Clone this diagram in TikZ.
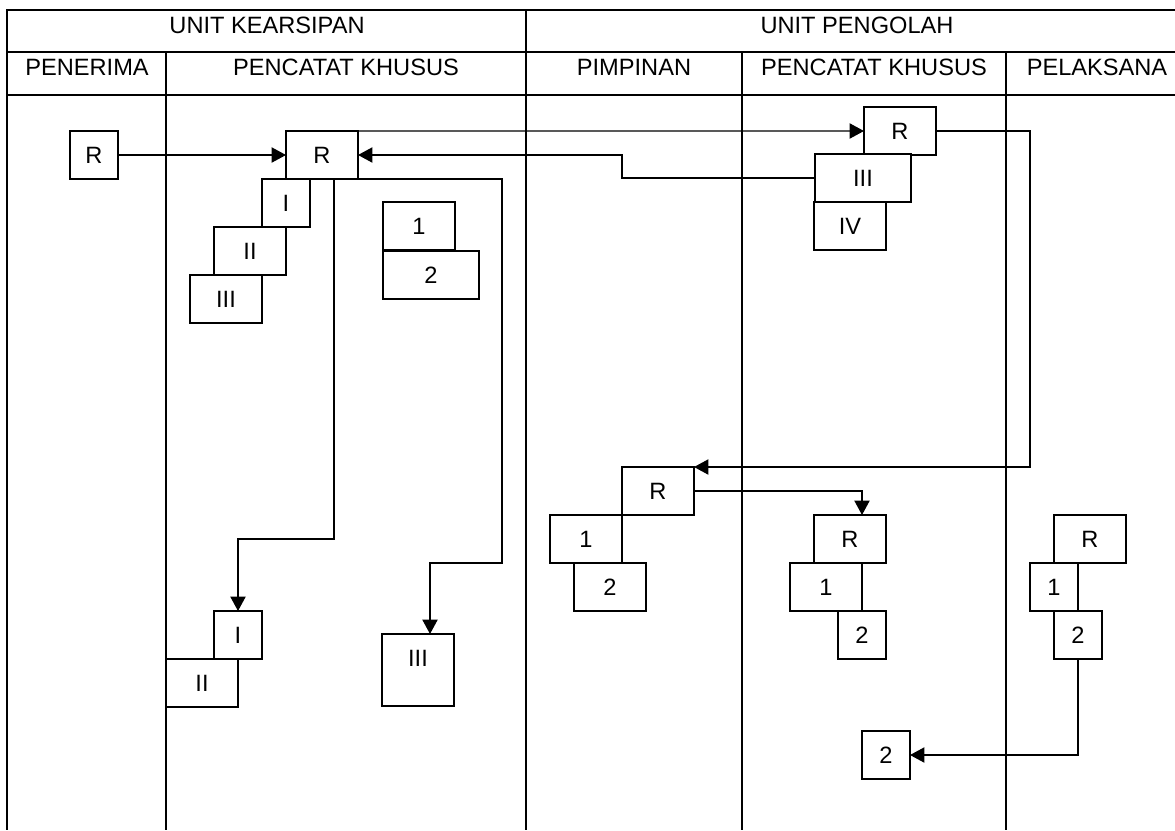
\documentclass[tikz,border=0pt]{standalone}
\usepackage{fontspec}
\setmainfont{Liberation Sans}
\usetikzlibrary{arrows.meta}
\tikzset{
  box/.style={draw,fill=white,line width=1pt,inner sep=0pt,outer sep=0pt,minimum width=18mm,minimum height=12mm},
  sqbox/.style={box,minimum width=12mm},
  widebox/.style={box,minimum width=24mm},
  lane/.style={line width=1pt},
  flow/.style={->,line width=1pt},
}

\begin{document}
\begin{tikzpicture}[x=0.25mm,y=-0.25mm,>={Triangle[length=3.6mm,width=3.8mm]},font=\fontsize{16.8}{20}\selectfont]
\useasboundingbox (0,0) rectangle (1175,830);
% lanes
\draw[lane] (1175,10) -- (7,10) -- (7,830);
\draw[lane] (7,52) -- (1175,52);
\draw[lane] (7,95) -- (1175,95);
\draw[lane] (526,10) -- (526,830);
\foreach \x in {166,742,1006} \draw[lane] (\x,52) -- (\x,830);
% headers
\node[inner sep=0pt] (hka) at (267,25) {UNIT KEARSIPAN};
\node[inner sep=0pt] (hpo) at (857,25) {UNIT PENGOLAH};
\node[inner sep=0pt] (hpe) at (87,67) {PENERIMA};
\node[inner sep=0pt] (hkc) at (346,67) {PENCATAT KHUSUS};
\node[inner sep=0pt] (hpm) at (634,67) {PIMPINAN};
\node[inner sep=0pt] (hpc) at (874,67) {PENCATAT KHUSUS};
\node[inner sep=0pt] (hpl) at (1097,67) {PELAKSANA};
% unit kearsipan
\node[sqbox] (tr) at (94,155) {R};
\node[box] (kr) at (322,155) {R};
\node[sqbox] (ka1) at (286,203) {I};
\node[box] (ka2) at (250,251) {II};
\node[box] (ka3) at (226,299) {III};
\node[box] (kb1) at (419,226) {1};
\node[widebox] (kb2) at (431,275) {2};
\node[sqbox] (ki1) at (238,635) {I};
\node[box] (ki2) at (202,683) {II};
\node[box,minimum height=18mm,text depth=5.8mm] (kiii) at (418,670) {III};
% unit pengolah
\node[box] (pr) at (900,131) {R};
\node[widebox] (p3) at (863,178) {III};
\node[box] (p4) at (850,226) {IV};
\node[box] (pmr) at (658,491) {R};
\node[box] (pm1) at (586,539) {1};
\node[box] (pm2) at (610,587) {2};
\node[box] (pcr) at (850,539) {R};
\node[box] (pc1) at (826,587) {1};
\node[sqbox] (pc2) at (862,635) {2};
\node[box] (plr) at (1090,539) {R};
\node[sqbox] (pl1) at (1054,587) {1};
\node[sqbox] (pl2) at (1078,635) {2};
\node[sqbox] (fin) at (886,755) {2};
% flow
\draw[flow] (tr.east) -- (kr.west);
\draw[flow] (kr.north east) -- (pr.west);
\draw[flow] (p3.west) -- ++(-193,0) |- (kr.east);
\draw[flow] ([xshift=3mm]kr.south) -- ++(0,360) -| (ki1.north);
\draw[flow] (kr.south east) -- ++(144,0) -- ++(0,384) -| ([xshift=3mm]kiii.north);
\draw[flow] (pr.east) -- ++(94,0) |- (pmr.north east);
\draw[flow] (pmr.east) -| ([xshift=3mm]pcr.north);
\draw[flow] (pl2.south) |- (fin.east);
\end{tikzpicture}
\end{document}
